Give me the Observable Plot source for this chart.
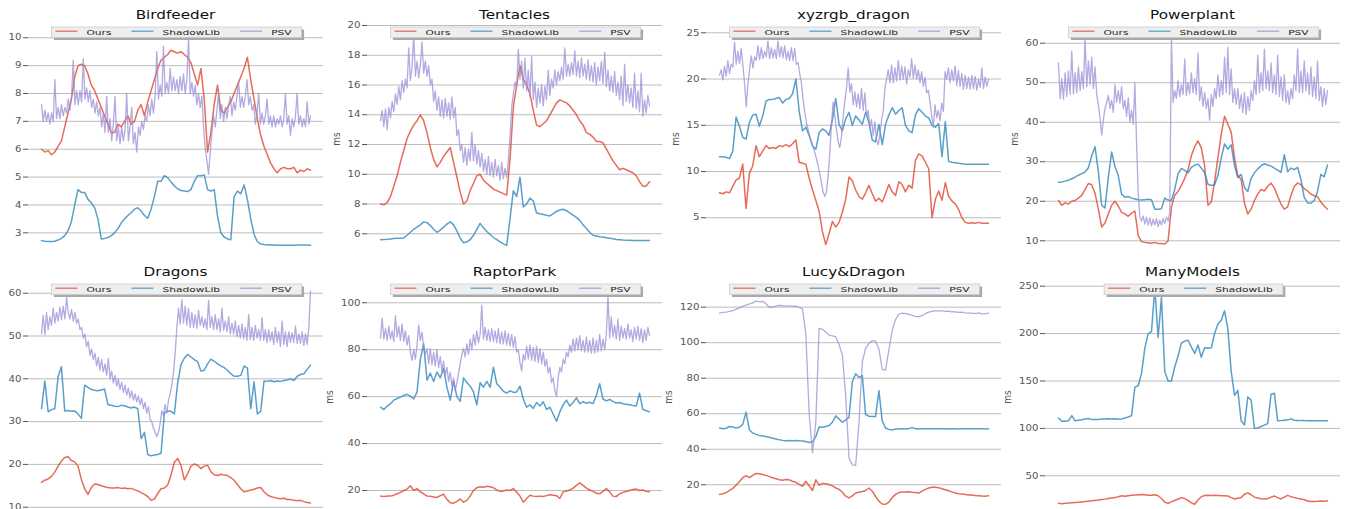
<!DOCTYPE html>
<html><head><meta charset="utf-8">
<script src="https://cdn.jsdelivr.net/npm/d3@7"></script>
<script src="https://cdn.jsdelivr.net/npm/@observablehq/plot@0.6"></script>
<style>
html,body{margin:0;padding:0;background:#fff;overflow:hidden;}
#wrap{position:relative;width:1347px;height:509px;overflow:hidden;font-family:"DejaVu Sans",sans-serif;}
#wrap svg{position:absolute;}
</style></head><body><div id="wrap"></div>
<script>
// ---------- data ----------
const seriesNames = ["Ours", "ShadowLib", "PSV"];
const seriesColors = ["#E24A33", "#348ABD", "#988ED5"];
const titles = ["Birdfeeder", "Tentacles", "xyzrgb_dragon", "Powerplant", "Dragons", "RaptorPark", "Lucy&Dragon", "ManyModels"];
const yLabel = "ms";

const ticksBirdfeeder = [3, 4, 5, 6, 7, 8, 9, 10];
const ticksTentacles = [6, 8, 10, 12, 14, 16, 18, 20];
const ticksXyzrgb = [5, 10, 15, 20, 25];
const ticksPowerplant = [10, 20, 30, 40, 50, 60];
const ticksDragons = [10, 20, 30, 40, 50, 60];
const ticksRaptorPark = [20, 40, 60, 80, 100];
const ticksLucy = [20, 40, 60, 80, 100, 120];
const ticksManyModels = [50, 100, 150, 200, 250];

const birdfeederOurs = [6.0,5.9,5.95,5.8,5.9,6.1,6.3,6.8,7.3,7.8,8.6,9.0,9.05,9.0,8.7,8.3,8.1,7.8,7.5,7.2,6.9,6.6,6.6,6.9,6.8,7.0,7.2,6.9,7.0,7.4,7.6,7.2,7.7,8.1,8.5,8.9,9.2,9.3,9.4,9.55,9.5,9.45,9.5,9.4,9.3,9.1,8.7,8.3,8.9,7.8,5.9,6.6,7.6,8.3,7.4,7.3,7.5,7.7,8.0,8.3,8.6,8.9,9.3,8.5,7.8,7.1,6.5,6.1,5.8,5.5,5.3,5.15,5.3,5.35,5.3,5.3,5.35,5.15,5.25,5.2,5.3,5.25];
const birdfeederShadowLib = [2.72,2.7,2.69,2.69,2.7,2.74,2.8,2.9,3.08,3.4,4.0,4.55,4.45,4.45,4.2,4.08,3.9,3.5,2.78,2.8,2.83,2.9,3.0,3.15,3.35,3.5,3.62,3.72,3.85,3.9,3.78,3.62,3.52,3.85,4.3,4.85,4.85,5.05,4.98,4.82,4.68,4.58,4.52,4.5,4.48,4.55,4.85,5.05,5.05,5.08,4.55,4.5,4.55,3.6,3.0,2.85,2.78,2.75,4.3,4.5,4.4,4.72,4.2,3.5,2.95,2.68,2.6,2.58,2.57,2.56,2.56,2.55,2.55,2.55,2.55,2.55,2.55,2.56,2.56,2.56,2.56,2.55];
const birdfeederPSV = [7.6,7.0,7.4,7.0,7.3,6.9,7.3,7.0,8.5,7.1,7.5,7.1,7.6,7.2,7.5,7.3,7.8,7.4,7.9,9.2,7.6,8.1,7.6,8.1,7.7,9.25,7.8,8.2,7.7,8.1,7.5,7.8,7.3,7.7,7.2,7.5,6.8,7.3,6.6,7.9,6.6,7.1,6.3,6.9,7.9,6.3,6.8,6.2,6.8,6.3,6.7,8.0,6.3,6.8,7.5,6.2,6.6,5.9,6.8,6.5,7.0,6.7,7.2,7.0,7.6,7.2,7.8,7.3,7.9,9.5,7.8,8.3,7.9,9.7,8.0,8.4,8.0,8.9,8.1,8.6,8.1,8.5,8.0,8.6,8.1,8.7,8.0,8.5,10.0,8.0,8.4,7.9,8.3,7.6,8.0,7.5,7.9,6.8,6.0,5.6,5.1,5.9,6.6,7.2,6.8,7.4,8.0,7.1,7.6,7.0,7.5,7.1,7.6,7.9,7.2,7.7,7.4,7.9,8.4,7.5,7.9,7.5,7.9,8.5,7.6,7.9,7.4,7.6,6.9,7.3,8.0,6.9,7.3,6.9,7.2,7.8,6.9,7.2,6.8,7.2,6.8,7.1,6.9,7.2,6.8,7.1,8.0,6.9,7.2,6.5,7.1,6.8,7.2,8.0,6.9,7.2,6.8,7.1,6.8,7.7,6.9,7.2];

const tentaclesOurs = [8.0,7.95,8.1,8.5,9.2,9.9,10.8,11.6,12.4,12.9,13.3,13.6,14.0,13.6,12.8,11.8,11.0,10.5,10.8,11.2,11.5,11.8,10.8,9.8,8.8,8.0,8.2,8.9,9.4,9.9,10.0,9.6,9.4,9.2,9.0,8.9,8.8,8.7,8.6,11.0,14.5,16.0,17.3,16.4,16.0,15.4,14.3,13.3,13.2,13.4,13.6,14.0,14.4,14.8,15.0,14.9,14.8,14.6,14.3,14.0,13.6,13.3,12.8,12.7,12.5,12.2,12.2,12.1,11.7,11.3,10.9,10.6,10.3,10.4,10.3,10.2,10.1,9.9,9.5,9.2,9.2,9.5];
const tentaclesShadowLib = [5.6,5.62,5.63,5.65,5.68,5.7,5.7,5.72,5.9,6.1,6.3,6.45,6.6,6.8,6.75,6.55,6.3,6.1,6.25,6.45,6.65,6.8,6.6,6.2,5.7,5.4,5.45,5.6,5.9,6.3,6.7,6.4,6.15,5.95,5.75,5.6,5.45,5.32,5.22,7.0,8.9,8.5,9.8,7.8,8.0,8.4,8.2,7.4,7.35,7.3,7.25,7.2,7.35,7.5,7.6,7.65,7.55,7.4,7.25,7.1,6.9,6.6,6.35,6.1,5.9,5.85,5.8,5.78,5.74,5.7,5.66,5.62,5.6,5.58,5.57,5.56,5.55,5.55,5.55,5.55,5.54,5.54];
const tentaclesPSV = [13.6,14.3,13.2,14.4,13.0,14.5,13.8,14.9,14.2,15.4,14.7,15.9,15.0,16.3,15.5,16.4,15.8,18.5,16.3,17.2,19.4,16.6,17.6,16.5,17.4,18.9,16.8,17.6,16.6,17.3,16.0,16.4,14.9,15.6,14.3,15.2,13.9,15.0,13.8,15.1,13.9,14.8,13.7,15.2,13.8,14.5,12.6,13.0,11.6,12.0,10.8,11.8,10.6,11.7,10.9,12.8,10.9,12.0,10.7,11.6,10.5,11.4,10.2,11.0,10.0,11.2,9.9,10.8,9.8,11.0,9.9,10.6,9.6,10.8,9.7,10.4,9.8,11.0,12.5,14.5,15.4,16.2,15.8,18.4,16.4,17.6,15.8,17.8,15.6,17.0,15.2,17.9,15.0,16.2,14.5,15.8,14.8,16.0,14.6,15.9,15.0,17.0,15.3,16.4,15.8,17.0,16.0,16.9,16.3,17.2,16.4,18.5,16.6,17.4,16.6,17.5,16.7,18.3,16.6,17.6,16.5,17.8,16.6,17.4,16.4,17.7,16.3,17.3,16.2,17.5,16.0,17.2,16.3,17.6,16.1,18.2,15.9,17.0,15.6,16.6,15.5,16.9,15.3,16.2,15.0,16.6,14.6,17.4,14.9,16.0,14.8,15.8,14.5,16.8,14.4,15.6,14.2,16.8,13.9,15.0,14.1,15.3,14.6];

const xyzrgbOurs = [7.7,7.6,7.8,7.7,8.4,9.1,9.3,10.8,6.0,9.8,10.6,12.8,11.6,12.2,12.8,12.5,12.6,12.5,12.8,12.7,12.9,12.7,13.0,13.4,11.0,10.9,10.8,9.3,8.0,6.9,5.7,3.5,2.1,3.3,4.6,4.0,4.5,5.6,7.0,9.4,9.0,8.0,7.3,7.0,7.7,8.5,7.6,6.8,7.1,6.7,7.6,8.6,7.8,7.4,8.9,8.6,7.8,8.5,8.2,11.2,11.9,11.7,11.0,10.3,5.0,7.0,7.9,6.9,8.8,7.3,6.8,6.5,5.9,5.0,4.5,4.4,4.45,4.4,4.5,4.4,4.4,4.4];
const xyzrgbShadowLib = [11.6,11.6,11.55,11.4,12.2,15.9,14.9,13.7,13.5,15.3,16.1,16.2,14.9,16.0,17.6,17.8,17.8,17.9,18.0,17.4,17.8,17.9,18.4,20.0,16.5,14.4,14.8,13.9,12.8,12.4,14.2,14.6,14.4,13.9,15.6,17.9,15.1,14.4,15.7,16.4,15.0,16.0,15.6,15.1,16.4,15.3,13.4,13.2,15.1,12.9,15.1,16.1,16.9,16.2,16.6,16.9,15.0,14.4,14.2,16.1,16.8,16.4,16.0,15.8,15.0,14.8,15.2,11.6,15.4,11.1,11.0,10.95,10.9,10.85,10.8,10.8,10.8,10.8,10.8,10.8,10.8,10.8];
const xyzrgbPSV = [20.4,21.0,19.9,21.4,20.3,22.0,20.6,21.6,21.3,24.0,21.6,23.0,21.7,23.3,21.5,19.5,17.0,19.5,21.0,22.5,21.2,22.4,22.0,23.6,22.1,23.4,22.2,23.0,22.4,24.1,22.2,23.4,22.3,23.2,22.2,24.1,22.4,23.5,22.3,23.6,22.1,23.0,22.0,23.4,22.0,23.3,21.6,21.8,20.6,19.6,17.8,16.5,15.3,14.6,13.8,13.2,12.6,12.1,11.4,10.6,9.8,8.8,7.8,7.3,7.8,9.5,12.0,15.0,17.5,16.0,14.6,13.2,12.6,13.8,16.0,17.5,19.0,21.2,18.6,19.5,17.2,18.6,17.0,18.4,16.8,19.0,16.6,18.5,16.0,16.6,14.8,15.6,13.9,15.4,13.4,12.9,14.0,15.6,16.5,19.0,20.0,21.0,19.6,21.5,19.6,21.2,19.8,22.0,19.9,21.4,20.0,21.3,19.5,21.0,20.2,22.2,20.1,21.5,20.0,21.0,19.6,20.8,19.2,20.2,18.5,18.8,17.5,16.0,14.8,17.2,15.8,16.6,15.5,17.4,16.5,20.8,20.0,21.2,19.6,21.0,19.8,21.4,19.3,20.9,19.2,20.6,18.9,20.4,19.0,20.2,18.9,20.4,19.0,20.3,18.8,20.0,19.1,21.2,19.0,20.2,19.2,20.0];

const powerplantOurs = [20.2,19.0,19.6,19.3,20.0,20.2,20.8,21.5,23.0,24.5,24.2,22.0,18.0,13.5,14.5,16.8,19.0,20.0,18.8,17.2,16.8,16.2,17.0,17.5,11.3,9.8,9.6,9.5,9.4,9.6,9.3,9.3,9.2,10.0,18.5,21.5,22.5,24.0,25.8,28.0,31.5,33.8,35.3,33.5,29.0,19.0,19.8,25.0,31.0,37.0,41.5,39.5,37.5,31.0,26.5,25.5,19.5,16.8,18.0,20.2,21.8,23.0,22.6,23.8,24.6,23.4,21.2,19.3,18.0,18.6,21.5,23.8,24.6,24.2,23.2,22.6,21.8,21.4,21.2,19.8,18.8,18.0];
const powerplantShadowLib = [24.8,24.9,25.1,25.3,25.7,26.1,26.6,27.0,27.4,28.5,31.5,33.8,27.5,19.0,18.3,26.0,32.5,28.8,26.5,21.8,21.0,21.2,20.8,20.6,20.4,20.3,20.4,20.5,20.4,18.0,18.0,18.1,20.8,20.3,20.2,23.0,27.0,28.3,27.8,27.2,28.6,29.1,29.4,28.4,27.3,24.3,24.0,24.2,26.5,31.0,34.5,33.2,34.3,29.0,26.0,26.8,23.5,22.5,25.8,27.2,28.2,29.0,29.5,29.2,28.9,28.4,27.9,27.3,31.8,27.5,28.4,28.0,28.6,25.5,21.0,19.6,19.5,20.2,22.5,26.8,26.2,29.2];
const powerplantPSV = [55.0,46.0,51.0,45.8,52.5,46.5,53.0,47.0,58.0,47.2,52.5,47.5,54.0,48.0,52.8,48.5,61.5,49.0,55.5,49.5,56.5,48.5,54.0,47.0,44.5,41.0,36.8,40.5,43.5,45.0,46.8,43.5,45.5,42.5,49.5,45.0,48.0,44.8,49.0,43.5,45.5,41.5,46.2,40.0,43.0,39.5,50.0,35.0,22.0,16.0,15.0,16.3,14.2,16.0,14.0,15.8,13.8,15.5,14.0,15.6,13.6,15.2,14.0,15.6,14.4,16.0,15.0,17.0,61.5,45.0,48.0,46.0,50.5,46.5,49.5,47.0,56.0,46.8,50.0,47.2,52.5,47.5,51.0,47.0,57.5,45.5,49.0,44.0,47.5,43.5,46.0,40.5,47.0,44.0,48.5,46.0,52.0,46.5,50.5,47.0,56.5,47.5,59.0,47.0,53.5,45.0,48.5,44.5,48.5,43.5,47.0,42.5,47.5,42.0,46.5,43.0,48.0,45.5,50.5,47.0,57.0,47.5,52.5,48.0,58.5,48.5,53.0,48.0,55.0,47.5,52.0,47.0,57.0,46.5,51.5,45.5,52.0,45.0,48.0,44.5,48.5,46.0,52.0,48.0,58.5,47.5,53.0,47.5,55.5,48.0,52.5,47.0,54.0,46.5,51.5,46.0,55.5,45.5,49.0,44.0,48.5,44.5,48.0];

const dragonsOurs = [15.8,16.3,16.6,17.2,18.2,19.6,20.8,21.6,21.8,20.9,20.6,19.6,16.5,14.3,13.0,14.6,15.4,15.3,15.0,14.8,14.6,14.5,14.5,14.6,14.4,14.5,14.3,14.4,14.1,13.8,13.4,13.0,12.5,11.6,11.9,13.2,14.3,14.5,15.2,17.5,20.5,21.4,19.8,16.4,17.8,19.6,20.1,19.8,19.0,19.6,19.8,18.3,17.6,17.4,17.7,17.5,17.4,16.9,16.3,15.3,14.3,13.6,13.8,14.0,14.2,14.5,14.6,13.6,12.9,12.5,12.3,12.1,12.0,12.1,11.8,11.8,11.6,11.5,11.6,11.3,11.1,11.0];
const dragonsShadowLib = [33.0,39.5,32.3,32.8,33.0,40.5,42.8,32.5,32.6,32.4,32.5,31.8,30.8,38.5,38.0,37.5,37.3,37.2,37.4,37.6,34.0,33.8,33.6,33.5,33.8,33.7,33.4,33.2,33.4,33.0,26.0,27.5,22.3,22.0,22.2,22.3,22.6,32.0,32.5,32.4,31.8,39.0,43.3,44.8,45.7,45.1,44.5,44.0,41.8,42.0,43.5,44.6,44.1,43.5,43.0,42.6,42.0,41.2,40.6,40.6,40.8,43.0,42.5,33.0,39.3,31.8,32.4,39.5,39.4,39.6,39.3,39.5,39.4,39.6,39.7,40.0,39.6,40.6,41.0,41.2,42.2,43.2];
const dragonsPSV = [50.5,54.8,50.3,55.5,51.5,54.5,52.5,56.5,53.0,55.5,53.5,56.8,53.8,57.0,54.0,59.0,55.5,54.0,56.2,53.5,55.5,53.0,54.0,51.5,52.0,49.5,50.5,47.5,48.8,45.5,47.0,44.5,46.0,43.0,45.0,42.0,44.5,41.6,43.5,40.8,44.8,40.0,41.8,39.0,40.8,38.3,40.0,37.5,39.2,36.8,38.5,36.2,37.8,35.5,37.2,35.0,36.5,34.6,36.0,34.0,35.5,33.0,34.5,32.0,33.5,30.5,30.0,28.5,27.5,26.5,27.5,29.5,32.5,31.5,34.0,32.0,35.0,36.5,38.5,41.5,46.0,52.0,56.5,52.8,58.5,53.0,57.0,52.5,56.5,52.0,55.5,52.0,55.0,51.8,56.0,52.5,54.5,52.0,54.0,51.5,58.3,52.0,54.5,51.5,55.0,51.5,54.0,51.0,56.5,51.3,53.5,51.0,54.5,50.5,53.0,50.5,53.5,49.8,52.5,49.5,52.8,49.3,52.0,49.0,55.0,49.2,52.0,49.0,52.5,49.5,51.5,49.0,54.3,49.0,51.5,48.5,51.5,48.8,51.0,48.0,52.0,48.5,51.0,47.5,53.5,48.0,51.0,47.5,51.0,48.5,50.8,48.5,52.3,48.3,50.5,48.3,51.0,47.8,50.5,48.0,52.0,60.5];

const raptorOurs = [17.6,17.4,17.6,17.6,18.0,18.6,19.2,20.0,20.6,22.0,20.0,20.8,19.4,18.6,17.6,17.5,17.2,17.0,17.8,18.4,16.2,14.8,14.6,15.4,16.4,15.0,15.8,17.6,20.0,21.2,21.6,21.4,21.8,21.6,21.2,20.2,19.6,19.8,20.2,20.0,20.8,19.2,17.6,15.0,16.6,18.0,17.6,17.4,17.6,17.4,17.8,18.2,18.0,17.8,16.6,19.4,19.8,20.2,21.0,22.2,23.2,22.2,21.0,20.2,19.6,18.8,18.6,19.6,20.8,19.4,17.6,17.4,18.6,19.2,19.6,20.0,20.4,20.6,20.0,20.2,19.6,19.5];
const raptorShadowLib = [55.5,54.5,56.0,57.0,58.5,59.2,59.8,60.5,61.0,60.2,59.0,62.0,76.0,82.5,67.0,70.0,66.5,70.5,68.0,72.0,64.0,58.5,66.5,60.0,58.0,68.0,66.0,64.5,62.0,56.5,66.0,64.0,66.5,64.0,72.5,65.5,64.0,62.3,61.5,62.5,61.8,62.0,64.5,59.0,55.5,56.5,55.0,57.5,56.0,57.8,54.5,55.5,52.5,49.5,53.5,56.5,58.5,56.0,57.5,59.5,57.0,57.8,57.2,57.6,57.0,60.5,65.5,59.0,58.2,58.8,58.0,57.3,57.5,57.0,56.8,56.5,56.2,56.0,61.5,54.5,54.0,53.5];
const raptorPSV = [85.0,93.5,84.5,89.0,84.0,90.0,84.5,88.0,83.5,94.5,85.5,90.0,84.0,91.0,83.5,88.0,82.0,86.0,79.0,75.5,80.0,76.0,82.0,90.5,84.0,87.5,81.0,78.0,80.5,74.0,80.5,73.5,79.0,73.0,80.0,72.5,77.0,71.0,75.0,69.0,72.5,66.5,70.5,64.5,68.0,62.6,66.0,70.0,74.0,78.0,80.5,77.0,82.5,78.0,84.5,80.0,86.5,82.0,88.0,83.0,86.5,99.0,84.5,89.5,84.0,88.5,83.5,89.0,83.5,88.0,83.0,89.0,82.5,87.5,82.5,88.0,82.0,87.0,81.5,86.5,81.0,85.5,79.0,80.0,74.5,71.0,78.0,75.5,81.5,76.0,82.0,75.5,81.0,75.0,81.5,74.5,80.5,74.0,79.0,73.0,76.0,70.0,72.5,66.0,68.0,62.5,60.0,68.0,72.5,70.5,76.0,74.0,79.0,77.0,82.0,79.0,84.5,79.5,85.0,80.0,86.0,79.5,84.0,79.0,85.5,79.0,84.0,78.5,85.0,78.5,84.0,79.0,86.5,79.5,84.5,80.0,86.5,103.0,85.0,94.0,85.5,90.5,84.5,93.0,84.0,90.0,85.0,89.0,84.5,91.0,85.0,88.5,83.5,89.5,84.5,90.0,84.0,89.0,83.0,88.5,84.0,89.5,86.0];

const lucyOurs = [14.6,15.0,15.6,16.8,18.0,19.8,21.8,24.0,25.2,24.0,25.3,26.4,26.2,25.8,25.3,24.6,24.0,23.4,22.8,22.6,23.0,22.8,22.0,21.4,20.2,19.2,22.0,19.4,16.8,22.8,19.8,20.8,20.6,20.2,19.4,18.2,17.4,15.8,13.6,12.6,13.8,15.4,15.8,16.2,16.8,18.2,16.4,13.4,10.8,9.2,9.0,10.2,12.8,14.6,15.6,15.9,16.0,16.1,15.8,15.6,15.4,16.4,17.4,18.2,18.6,18.6,18.4,17.8,17.2,16.6,16.0,15.4,15.0,14.8,14.5,14.3,14.2,14.0,13.9,13.7,13.6,13.8];
const lucyShadowLib = [52.0,51.6,51.8,52.8,52.6,52.0,52.4,54.0,60.8,51.0,49.2,48.4,47.8,47.4,47.2,46.8,46.2,45.8,45.3,45.0,44.8,44.9,44.8,45.0,44.8,44.7,44.4,43.8,44.2,47.0,52.5,52.4,52.8,53.4,55.2,58.8,57.0,55.2,56.6,58.0,78.0,82.5,80.5,81.5,59.5,58.6,58.5,58.4,73.0,56.0,52.0,51.2,50.8,51.4,51.4,51.5,51.5,51.6,52.2,51.6,51.5,51.6,51.5,51.6,51.5,51.5,51.5,51.6,51.5,51.4,51.5,51.5,51.4,51.5,51.5,51.5,51.5,51.5,51.5,51.5,51.4,51.6];
const lucyPSV = [116.6,117.0,117.2,117.6,118.0,118.8,119.6,120.4,121.2,121.8,122.4,123.4,123.0,123.2,122.0,119.8,120.2,120.6,121.0,120.8,120.6,120.8,120.4,120.6,119.8,119.0,105.0,60.0,38.0,55.0,108.0,107.6,106.0,104.2,103.8,103.4,99.0,93.0,70.0,35.0,31.2,31.0,55.0,89.0,97.0,99.6,101.2,100.8,96.5,85.0,84.5,96.0,107.0,113.0,116.0,116.6,116.4,116.0,115.4,114.8,114.6,115.2,116.4,117.2,117.6,118.0,117.8,118.0,117.6,117.8,117.4,117.4,117.0,117.2,116.8,116.6,116.6,116.4,116.8,116.2,116.4,116.6];

const manyOurs = [21.0,20.5,21.0,21.2,21.5,21.8,22.0,22.4,22.8,23.2,23.6,24.0,24.4,25.0,25.4,26.0,26.5,27.0,28.0,29.0,28.5,29.0,29.5,29.8,30.0,30.2,30.0,29.5,29.6,30.0,29.0,26.0,22.0,21.0,22.5,24.0,25.5,27.0,26.0,24.0,21.5,20.0,24.5,28.0,29.2,29.4,29.3,29.4,29.2,29.0,29.0,28.8,27.0,25.6,26.4,27.0,30.5,32.0,30.0,27.5,26.5,25.8,25.5,26.0,27.5,28.6,27.0,25.6,27.5,29.4,28.0,27.0,26.2,25.5,24.8,23.5,23.0,23.0,23.1,23.4,23.2,23.6];
const manyShadowLib = [111.0,107.5,107.5,108.0,113.5,108.0,108.5,109.0,110.0,110.5,109.5,109.5,109.5,109.8,110.0,110.2,110.0,110.2,109.6,110.0,111.0,112.0,113.5,143.5,145.0,158.0,185.0,200.0,202.0,248.0,196.0,238.0,160.0,150.0,150.0,165.0,176.0,190.0,192.0,193.0,186.0,179.0,188.0,175.0,185.0,184.5,185.0,200.0,210.0,214.0,224.0,205.0,160.0,135.0,140.0,108.0,103.5,133.0,130.0,100.0,100.5,102.0,103.5,105.0,136.0,137.0,108.0,108.2,108.6,109.0,110.0,108.6,108.4,108.2,108.2,108.0,108.2,108.0,108.0,108.2,108.0,108.0];

// y-scale domain of each panel's plotting area
const yDomains = [[2.186, 10.44], [4.54, 20.0], [0.92, 25.79], [6.28, 64.48], [9.23, 62.97], [11.47, 109.5], [5.53, 135.0], [13.4, 256.0]];

const panels = [
  {ticks: ticksBirdfeeder, series: [birdfeederOurs, birdfeederShadowLib, birdfeederPSV]},
  {ticks: ticksTentacles, series: [tentaclesOurs, tentaclesShadowLib, tentaclesPSV]},
  {ticks: ticksXyzrgb, series: [xyzrgbOurs, xyzrgbShadowLib, xyzrgbPSV]},
  {ticks: ticksPowerplant, series: [powerplantOurs, powerplantShadowLib, powerplantPSV]},
  {ticks: ticksDragons, series: [dragonsOurs, dragonsShadowLib, dragonsPSV]},
  {ticks: ticksRaptorPark, series: [raptorOurs, raptorShadowLib, raptorPSV]},
  {ticks: ticksLucy, series: [lucyOurs, lucyShadowLib, lucyPSV]},
  {ticks: ticksManyModels, series: [manyOurs, manyShadowLib]}
];

// ---------- layout ----------
const wrap = document.getElementById("wrap");
const colW = 339, axW = 295, mL = 28, mR = 16, mT = 12, mB = 12, axH = 230;
const rowTop = [25, 280];
const legendTop = [27, 284];
const titleBase = [18.5, 276];
const msY = [139, 397];
const TICK_SX = 1.2, TITLE_SX = 1.27, LEG_SX = 1.42, LEG_FS = 7.5;
const xPad = 13 / 269;

panels.forEach((p, k) => {
  const col = k % 4, row = Math.floor(k / 4);
  const marks = [
    Plot.gridY(p.ticks, {stroke: "#bdbdbd", strokeOpacity: 1, strokeWidth: 1}),
    Plot.axisY(p.ticks, {tickSize: 5, tickPadding: 2, color: "#555", fontSize: 8.5, label: null}),
    ...p.series.map((vals, s) => Plot.line(vals, {
      x: (d, i) => i / (vals.length - 1), y: d => d,
      stroke: seriesColors[s], strokeWidth: s === 2 ? 1.3 : 1.5, strokeOpacity: s === 2 ? 0.75 : 0.82, clip: true
    }))
  ];
  const svg = Plot.plot({
    width: colW, height: axH + mT + mB,
    marginLeft: mL, marginRight: mR, marginTop: mT, marginBottom: mB,
    x: {domain: [-xPad, 1 + xPad], axis: null},
    y: {domain: yDomains[k]},
    style: {background: "transparent", fontFamily: "DejaVu Sans", overflow: "visible"},
    marks
  });
  svg.style.left = (col * colW) + "px";
  svg.style.top = (rowTop[row] - mT) + "px";
  svg.querySelectorAll('g[aria-label="y-axis tick label"] text').forEach(t => {
    let tr = t.getAttribute("transform") || "";
    if (t.hasAttribute("x")) { tr += ` translate(${t.getAttribute("x")},0)`; t.removeAttribute("x"); }
    t.setAttribute("transform", tr + ` scale(${TICK_SX},1)`);
  });
  wrap.appendChild(svg);
});

// ---------- titles, legends, y labels ----------
const ov = d3.select(wrap).append("svg")
  .attr("width", 1347).attr("height", 509)
  .style("left", "0px").style("top", "0px")
  .style("font-family", "DejaVu Sans");
const ctx = document.createElement("canvas").getContext("2d");
ctx.font = `${LEG_FS}px "DejaVu Sans"`;

panels.forEach((p, k) => {
  const col = k % 4, row = Math.floor(k / 4);
  const axL = col * colW + mL, cx = axL + axW / 2;
  ov.append("text").attr("transform", `translate(${cx},${titleBase[row]}) scale(${TITLE_SX},1)`)
    .attr("text-anchor", "middle").attr("font-size", 12).attr("fill", "#111").text(titles[k]);

  // legend
  let x = 4; const items = [];
  p.series.forEach((_, s) => {
    const w = ctx.measureText(seriesNames[s]).width * LEG_SX;
    items.push({s, lx: x, tx: x + 31});
    x = x + 31 + w + 20;
  });
  const boxW = x - 20 + 10, boxH = 10.5;
  const bx = cx - boxW / 2 + 1, by = legendTop[row];
  const g = ov.append("g").attr("transform", `translate(${bx},${by})`);
  g.append("rect").attr("x", 2.5).attr("y", 2.5).attr("width", boxW).attr("height", boxH).attr("fill", "#a9a9a9");
  g.append("rect").attr("x", 0).attr("y", 0).attr("width", boxW).attr("height", boxH)
    .attr("fill", "#eeeeee").attr("stroke", "#cccccc").attr("stroke-width", 0.8);
  items.forEach(it => {
    g.append("line").attr("x1", it.lx).attr("x2", it.lx + 22).attr("y1", 4.2).attr("y2", 4.2)
      .attr("stroke", seriesColors[it.s]).attr("stroke-width", 1.2).attr("stroke-opacity", 0.85);
    g.append("text").attr("transform", `translate(${it.tx},7.6) scale(${LEG_SX},1)`)
      .attr("font-size", LEG_FS).attr("fill", "#222").text(seriesNames[it.s]);
  });

  // y label (the first column's label falls outside the picture, as in the reference)
  if (col > 0) {
    const maxLen = d3.max(p.ticks, t => String(t).length);
    const lx = axL - (maxLen >= 3 ? 38 : 31);
    ov.append("text").attr("transform", `translate(${lx},${msY[row]}) scale(1.25,1) rotate(-90)`)
      .attr("text-anchor", "middle").attr("dy", "0.35em").attr("font-size", 9).attr("fill", "#555").text(yLabel);
  }
});
</script>
</body></html>
